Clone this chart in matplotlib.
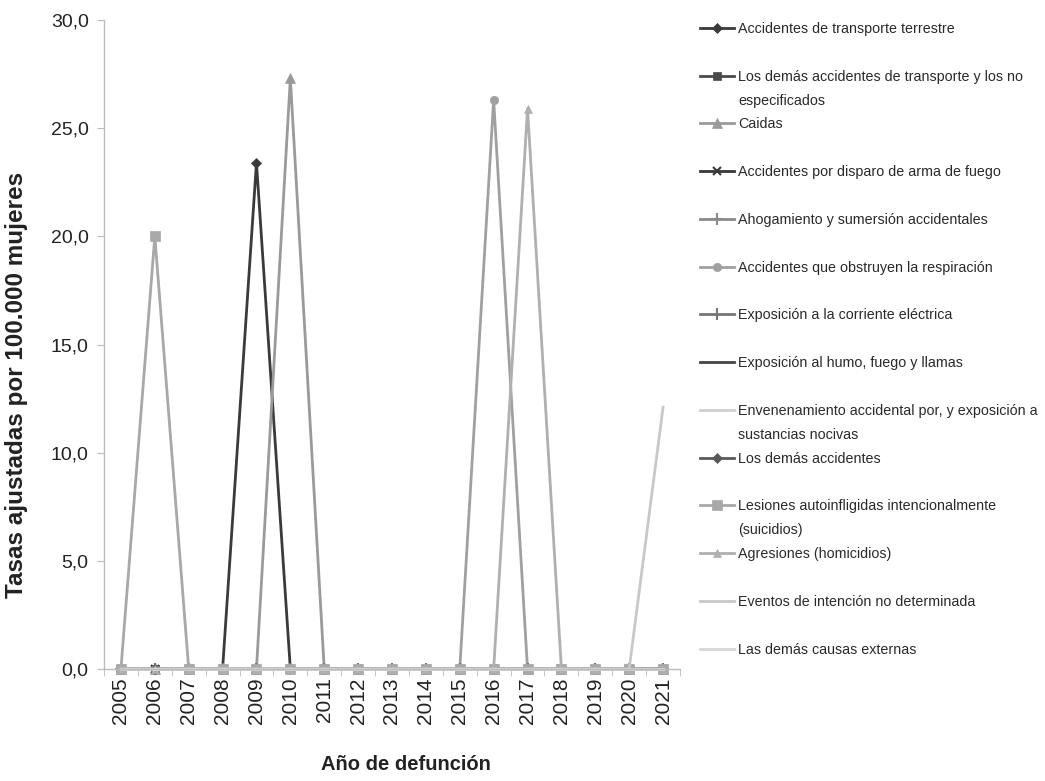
import matplotlib

matplotlib.use("Agg")
import matplotlib.pyplot as plt  # noqa: E402
from matplotlib.lines import Line2D  # noqa: E402
from matplotlib.ticker import FixedLocator, FuncFormatter  # noqa: E402

FONT = ["Liberation Sans", "DejaVu Sans"]

years = ["2005", "2006", "2007", "2008", "2009", "2010", "2011", "2012", "2013",
         "2014", "2015", "2016", "2017", "2018", "2019", "2020", "2021"]

# tasas ajustadas por 100.000 mujeres, 2005-2021
transporte_terrestre = [0, 0, 0, 0, 23.4, 0, 0, 0, 0, 0, 0, 0, 0, 0, 0, 0, 0]
otros_transporte = [0, 0, 0, 0, 0, 0, 0, 0, 0, 0, 0, 0, 0, 0, 0, 0, 0]
caidas = [0, 0, 0, 0, 0, 27.3, 0, 0, 0, 0, 0, 0, 0, 0, 0, 0, 0]
disparo = [0, 0, 0, 0, 0, 0, 0, 0, 0, 0, 0, 0, 0, 0, 0, 0, 0]
ahogamiento = [0, 0, 0, 0, 0, 0, 0, 0, 0, 0, 0, 0, 0, 0, 0, 0, 0]
obstruyen = [0, 0, 0, 0, 0, 0, 0, 0, 0, 0, 0, 26.3, 0, 0, 0, 0, 0]
corriente = [0, 0, 0, 0, 0, 0, 0, 0, 0, 0, 0, 0, 0, 0, 0, 0, 0]
humo = [0, 0, 0, 0, 0, 0, 0, 0, 0, 0, 0, 0, 0, 0, 0, 0, 0]
envenenamiento = [0, 0, 0, 0, 0, 0, 0, 0, 0, 0, 0, 0, 0, 0, 0, 0, 0]
demas_accidentes = [0, 0, 0, 0, 0, 0, 0, 0, 0, 0, 0, 0, 0, 0, 0, 0, 0]
suicidios = [0, 20.0, 0, 0, 0, 0, 0, 0, 0, 0, 0, 0, 0, 0, 0, 0, 0]
homicidios = [0, 0, 0, 0, 0, 0, 0, 0, 0, 0, 0, 0, 25.9, 0, 0, 0, 0]
no_determinada = [0, 0, 0, 0, 0, 0, 0, 0, 0, 0, 0, 0, 0, 0, 0, 0, 12.1]
demas_causas = [0, 0, 0, 0, 0, 0, 0, 0, 0, 0, 0, 0, 0, 0, 0, 0, 0]

labels = [
    "Accidentes de transporte terrestre",
    "Los demás accidentes de transporte y los no\nespecificados",
    "Caidas",
    "Accidentes por disparo de arma de fuego",
    "Ahogamiento y sumersión accidentales",
    "Accidentes que obstruyen la respiración",
    "Exposición a la corriente eléctrica",
    "Exposición al humo, fuego y llamas",
    "Envenenamiento accidental por, y exposición a\nsustancias nocivas",
    "Los demás accidentes",
    "Lesiones autoinfligidas intencionalmente\n(suicidios)",
    "Agresiones (homicidios)",
    "Eventos de intención no determinada",
    "Las demás causas externas",
]
series = [transporte_terrestre, otros_transporte, caidas, disparo, ahogamiento,
          obstruyen, corriente, humo, envenenamiento, demas_accidentes,
          suicidios, homicidios, no_determinada, demas_causas]

# (color, marker, markersize)
styles = [
    ("#3a3a3a", "D", 5),
    ("#4a4a4a", "s", 6),
    ("#9a9a9a", "^", 7),
    ("#383838", "x", 6),
    ("#8a8a8a", "+", 8),
    ("#a0a0a0", "o", 6),
    ("#767676", "|", 8),
    ("#444444", None, 0),
    ("#cfcfcf", None, 0),
    ("#5a5a5a", "D", 5),
    ("#a8a8a8", "s", 7),
    ("#b0b0b0", "^", 6),
    ("#c8c8c8", None, 0),
    ("#d6d6d6", None, 0),
]

fig = plt.figure(figsize=(10.45, 7.81), dpi=100)
ax = fig.add_axes([104 / 1045, 112 / 781, 576 / 1045, 649 / 781])

x = list(range(len(years)))
handles = []
for vals, (color, marker, ms) in zip(series, styles):
    (ln,) = ax.plot(x, vals, color=color, lw=2.0, marker=marker, markersize=ms,
                    markeredgewidth=1.5 if marker in ("x", "+", "|") else 0.5,
                    clip_on=False)
    handles.append(ln)

ax.set_xlim(-0.5, len(years) - 0.5)
ax.set_ylim(0, 30)
ax.yaxis.set_major_locator(FixedLocator([0, 5, 10, 15, 20, 25, 30]))
ax.yaxis.set_major_formatter(FuncFormatter(lambda v, _: f"{v:.1f}".replace(".", ",")))
ax.set_xticks(x)
ax.set_xticklabels(years, rotation=90, family=FONT, fontsize=15, color="#222222")
ax.set_xticks([i - 0.5 for i in x] + [len(years) - 0.5], minor=True)
ax.tick_params(axis="x", which="major", length=0, pad=6)
ax.tick_params(axis="x", which="minor", length=5, color="#bbbbbb", direction="out")
ax.tick_params(axis="y", length=5, color="#bbbbbb", pad=6, labelsize=14,
               labelcolor="#222222")
for t in ax.get_yticklabels():
    t.set_family(FONT)

for side in ("top", "right"):
    ax.spines[side].set_visible(False)
for side in ("left", "bottom"):
    ax.spines[side].set_color("#bbbbbb")
    ax.spines[side].set_linewidth(1.0)

ax.set_ylabel("Tasas ajustadas por 100.000 mujeres", family=FONT,
              fontweight="bold", fontsize=17.5, color="#222222")
ax.yaxis.set_label_coords(-0.132, 0.438)
ax.set_xlabel("Año de defunción", family=FONT, fontweight="bold",
              fontsize=14.5, color="#222222")
ax.xaxis.set_label_coords(0.524, -0.133)

# legend: one row per text line, spacer rows keep the entries evenly spaced
blank = Line2D([], [], color="none")
leg_handles, leg_labels = [], []
for i, (h, lab) in enumerate(zip(handles, labels)):
    parts = lab.split("\n")
    leg_handles.append(h)
    leg_labels.append(parts[0])
    if i < len(labels) - 1:
        leg_handles.append(blank)
        leg_labels.append(parts[1] if len(parts) > 1 else "")

leg = fig.legend(leg_handles, leg_labels, loc="upper left",
                 bbox_to_anchor=(700 / 1045, 1 - 22 / 781), frameon=False,
                 borderpad=0, borderaxespad=0, handlelength=2.4,
                 handletextpad=0.25, labelspacing=0.69,
                 prop={"family": FONT, "size": 10.3})
for t in leg.get_texts():
    t.set_color("#2a2a2a")

fig.savefig("out.png", dpi=100, facecolor="white")
